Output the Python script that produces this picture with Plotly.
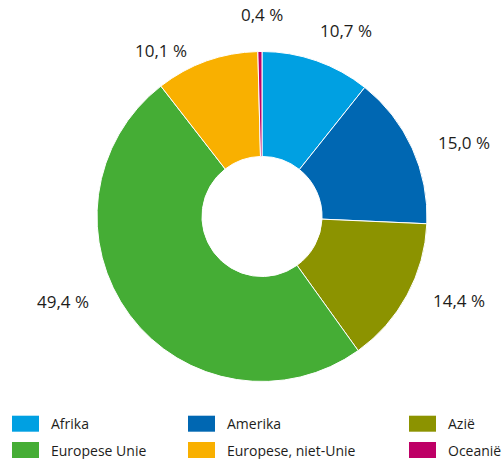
import math
import plotly.graph_objects as go

# ---- data ----
categories = ["Afrika", "Amerika", "Azië", "Europese Unie", "Europese, niet-Unie", "Oceanië"]
values = [10.7, 15.0, 14.4, 49.4, 10.1, 0.4]
colors = ["#00A0E2", "#0067B2", "#8C9300", "#45AD35", "#F9B000", "#BE0066"]

# ---- layout constants ----
W, H = 504, 459
CX, CY, R = 262, 216.5, 165          # pie centre / radius in pixels
HOLE = 0.364
LABEL_R = [204, 215, 214, 216, 194, 202]     # label distance from centre (px)
LABEL_DA = [5.0, 4.4, -5.3, 13.6, -11.7, 0.7]  # angular nudge (deg)
FONT = "Open Sans"
TXT = "#1d1d1b"


def px(x):
    return x / W


def py(y):
    return 1 - y / H


fig = go.Figure(go.Pie(
    labels=categories,
    values=values,
    marker=dict(colors=colors, line=dict(color="white", width=1)),
    hole=HOLE,
    sort=False,
    direction="clockwise",
    rotation=0,
    textinfo="none",
    hoverinfo="label+percent",
    showlegend=False,
    domain=dict(x=[px(CX - R), px(CX + R)], y=[py(CY + R), py(CY - R)]),
))

annotations = []
total = sum(values)
cum = 0.0
for i, v in enumerate(values):
    mid = (cum + v / 2) / total * 360 + LABEL_DA[i]
    cum += v
    a = math.radians(mid)
    x = CX + LABEL_R[i] * math.sin(a)
    y = CY - LABEL_R[i] * math.cos(a)
    annotations.append(dict(
        x=px(x), y=py(y), xref="paper", yref="paper",
        text=f"{v:.1f}".replace(".", ",") + " %",
        showarrow=False, xanchor="center", yanchor="middle",
        font=dict(family=FONT, size=17, color=TXT),
    ))

# ---- manual legend (3 columns x 2 rows) ----
col_x = [12, 188, 409]
row_y = [423.7, 450]
sw_w, sw_h, gap = 27, 16, 10
shapes = []
for i, (name, c) in enumerate(zip(categories, colors)):
    cx0 = col_x[i % 3]
    ry = row_y[i // 3]
    shapes.append(dict(
        type="rect", xref="paper", yref="paper",
        x0=px(cx0), x1=px(cx0 + sw_w), y0=py(ry + sw_h / 2), y1=py(ry - sw_h / 2),
        fillcolor=c, line=dict(width=0),
    ))
    annotations.append(dict(
        x=px(cx0 + sw_w + gap), y=py(ry), xref="paper", yref="paper",
        text=name, showarrow=False, xanchor="left", yanchor="middle",
        font=dict(family=FONT, size=14, color=TXT),
    ))

fig.update_layout(
    width=W, height=H,
    margin=dict(l=0, r=0, t=0, b=0),
    paper_bgcolor="white",
    plot_bgcolor="white",
    annotations=annotations,
    shapes=shapes,
)

fig.write_html(
    "out.html",
    config={"displayModeBar": False},
    post_script="document.body.style.margin='0';document.body.style.overflow='hidden';",
)
